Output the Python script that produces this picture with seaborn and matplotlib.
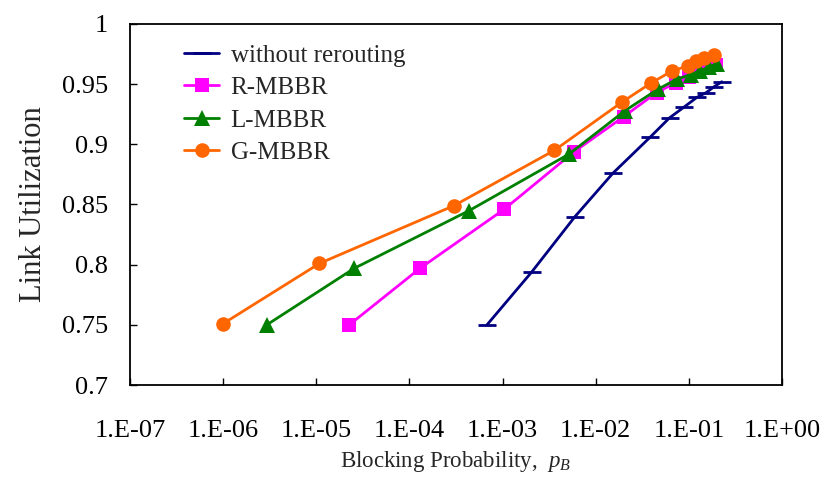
import matplotlib
matplotlib.use("Agg")
import matplotlib.pyplot as plt
import seaborn as sns
import pandas as pd

# Blocking probability vs. link utilization for each rerouting scheme
plain_pb = [6.8e-4, 2.06e-3, 6.0e-3, 1.53e-2, 3.85e-2, 6.2e-2, 8.9e-2, 0.122, 0.154, 0.188, 0.226]
plain_u = [0.750, 0.794, 0.840, 0.876, 0.906, 0.922, 0.931, 0.939, 0.943, 0.948, 0.952]

r_pb = [2.26e-5, 1.3e-4, 1.04e-3, 5.9e-3, 2.0e-2, 4.5e-2, 7.2e-2, 0.100, 0.130, 0.160, 0.195]
r_u = [0.750, 0.797, 0.846, 0.894, 0.923, 0.943, 0.951, 0.956, 0.960, 0.963, 0.966]

l_pb = [2.94e-6, 2.56e-5, 4.4e-4, 5.2e-3, 2.07e-2, 4.7e-2, 7.4e-2, 0.105, 0.132, 0.163, 0.200]
l_u = [0.750, 0.797, 0.845, 0.892, 0.928, 0.946, 0.954, 0.958, 0.961, 0.964, 0.967]

g_pb = [1.0e-6, 1.08e-5, 3.0e-4, 3.6e-3, 1.91e-2, 3.94e-2, 6.64e-2, 0.097, 0.120, 0.144, 0.184]
g_u = [0.751, 0.801, 0.849, 0.895, 0.935, 0.951, 0.961, 0.965, 0.9695, 0.972, 0.974]

series_names = ["without rerouting", "R-MBBR", "L-MBBR", "G-MBBR"]
x_ticks = [1e-7, 1e-6, 1e-5, 1e-4, 1e-3, 1e-2, 1e-1, 1e0]
x_tick_labels = ["1.E-07", "1.E-06", "1.E-05", "1.E-04", "1.E-03", "1.E-02", "1.E-01", "1.E+00"]
y_ticks = [0.7, 0.75, 0.8, 0.85, 0.9, 0.95, 1.0]
y_tick_labels = ["0.7", "0.75", "0.8", "0.85", "0.9", "0.95", "1"]

sns.set_style("white")
plt.rcParams["font.family"] = ["Liberation Serif", "DejaVu Serif"]
plt.rcParams["mathtext.fontset"] = "custom"
plt.rcParams["mathtext.it"] = "Liberation Serif:italic"
plt.rcParams["mathtext.rm"] = "Liberation Serif"

fig = plt.figure(figsize=(8.24, 4.84), dpi=100)
ax = fig.add_axes([0.1578, 0.2045, 0.7912, 0.746])

styles = [
    (plain_pb, plain_u, "#000080", "_", 13, 2.0),
    (r_pb, r_u, "#FF00FF", "s", 10.5, 0),
    (l_pb, l_u, "#008000", "^", 11, 0),
    (g_pb, g_u, "#FF6600", "o", 10.5, 0),
]

for name, (xs, ys, color, mk, ms, mew) in zip(series_names, styles):
    df = pd.DataFrame({"pb": xs, "u": ys})
    sns.lineplot(data=df, x="pb", y="u", ax=ax, sort=False, estimator=None,
                 color=color, linewidth=2.0, marker=mk, markersize=ms,
                 markeredgewidth=mew if mk == "_" else 0,
                 markeredgecolor=color, markerfacecolor=color, label=name)

ax.set_xscale("log")
ax.set_xlim(1e-7, 1e0)
ax.set_ylim(0.7, 1.0)
ax.set_xticks(x_ticks)
ax.set_xticklabels(x_tick_labels)
ax.set_yticks(y_ticks)
ax.set_yticklabels(y_tick_labels)
ax.minorticks_off()
ax.tick_params(axis="x", which="major", direction="in", length=5, width=1,
               bottom=True, top=False, labelsize=19, pad=25, colors="black")
ax.tick_params(axis="y", which="major", direction="in", length=5, width=1,
               left=True, right=False, labelsize=19, pad=16, colors="black")
for sp in ax.spines.values():
    sp.set_visible(True)
    sp.set_color("black")
    sp.set_linewidth(1.3)

ax.set_xlabel(r"Blocking Probability,  $p_B$", fontsize=16.5, labelpad=5)
ax.set_ylabel("Link Utilization", fontsize=22, labelpad=10)

leg = ax.legend(loc="upper left", bbox_to_anchor=(0.068, 0.972), frameon=False,
                fontsize=18, handlelength=1.4, handletextpad=0.45,
                labelspacing=0.4, borderaxespad=0)

fig.savefig("out.png", dpi=100)
